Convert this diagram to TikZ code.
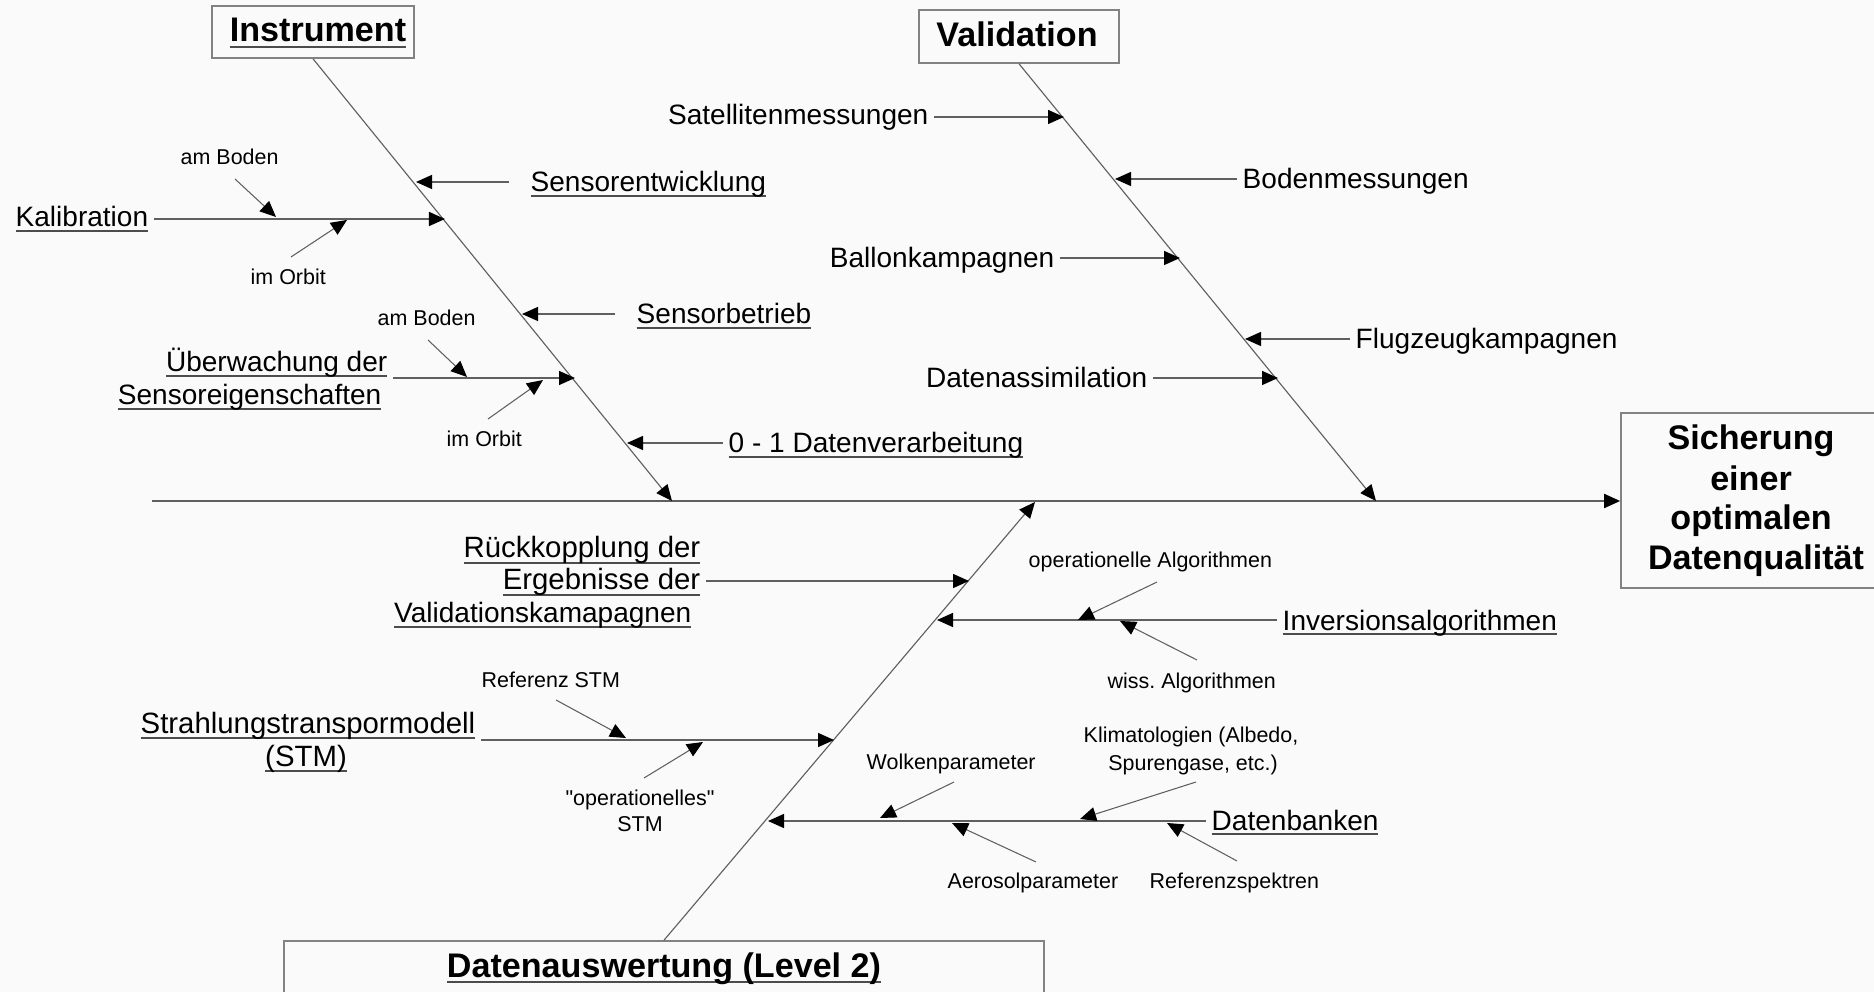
\documentclass[tikz,border=0pt]{standalone}
\usepackage{fontspec}
\setmainfont{Liberation Sans}[Ligatures=TeXOff]
\usetikzlibrary{arrows.meta}
\definecolor{linegray}{RGB}{95,95,95}
\definecolor{boxgray}{RGB}{130,130,130}
\definecolor{bgc}{RGB}{250,250,250}
\newsavebox\ulbox
\newcommand\ulx[1]{\sbox\ulbox{#1}\rlap{\color{black!70}\rule[-0.19em]{\wd\ulbox}{0.07em}}\usebox\ulbox}
\frenchspacing
\begin{document}
\begin{tikzpicture}[x=0.01cm,y=-0.01cm,
  big/.style={font=\fontsize{9.7pt}{11.4pt}\selectfont\bfseries, inner xsep=0.05cm, inner ysep=0.02cm},
  mid/.style={font=\fontsize{7.97pt}{9.6pt}\selectfont, inner xsep=0.05cm, inner ysep=0.02cm},
  midw/.style={font=\fontsize{8.35pt}{9.6pt}\selectfont, inner xsep=0.05cm, inner ysep=0.02cm},
  small/.style={font=\fontsize{6.1pt}{7.6pt}\selectfont, inner xsep=0.05cm, inner ysep=0.02cm},
  box/.style={draw=boxgray, line width=0.45pt, inner sep=0pt},
  arr/.style={draw=linegray, line width=0.4pt, -{Triangle[length=0.16cm,width=0.14cm,color=black]}},
  spinearr/.style={arr, line width=0.32pt},
  twig/.style={arr, line width=0.3pt},
]
\fill[bgc] (0,0) rectangle (1874,992);
\useasboundingbox (0,0) rectangle (1874,992);
\clip (0,0) rectangle (1874,992);

% ---------- boxes ----------
\node[box, minimum width=2.02cm, minimum height=0.52cm] (ibox) at (313,32) {};
\node[box, minimum width=2.00cm, minimum height=0.53cm] (vbox) at (1019,36.5) {};
\node[box, minimum width=2.69cm, minimum height=1.75cm] (sbox) at (1755.5,500.5) {};
\node[box, minimum width=7.60cm, minimum height=0.99cm] (dbox) at (664,990.5) {};

% ---------- headings ----------
\node[big, anchor=base] (itxt) at (318,42) {\ulx{Instrument}};
\node[big, anchor=base] (vtxt) at (1017,47) {Validation};
\node[big, anchor=base] (dtxt) at (664,977) {\ulx{Datenauswertung (Level 2)}};
\node[big, anchor=base] (s1) at (1751,450) {Sicherung};
\node[big, anchor=base] (s2) at (1751,491) {einer};
\node[big, anchor=base] (s3) at (1751,530) {optimalen};
\node[big, anchor=base] (s4) at (1756,570) {Datenqualität};

% ---------- spine tips ----------
\coordinate (mS) at (152,501);
\coordinate (iTip) at (672,501);
\coordinate (vTip) at (1376,501);
\coordinate (dTip) at (1035,502);

% main spine and bones
\draw[arr, line width=0.55pt] (mS) -- (sbox.west |- mS);
\draw[spinearr] (ibox.south) -- (iTip);
\draw[spinearr] (vbox.south) -- (vTip);
\draw[spinearr] (dbox.north) -- (dTip);

% ---------- Instrument branch ----------
\node[mid, anchor=base west] (kal) at (10,227) {\ulx{Kalibration}};
\node[mid, anchor=base west] (sensEnt) at (525,192) {\ulx{Sensorentwicklung}};
\node[mid, anchor=base west] (sensBet) at (631,324) {\ulx{Sensorbetrieb}};
\node[mid, anchor=base east] (ueb1) at (393,372) {\ulx{Überwachung der}};
\node[mid, anchor=base east] (ueb2) at (387,405) {\ulx{Sensoreigenschaften}};
\node[mid, anchor=base west] (dv) at (723,453) {\ulx{0 - 1 Datenverarbeitung}};
\node[small, anchor=base west] (amB1) at (175,165) {am Boden};
\node[small, anchor=base west] (imO1) at (245,285) {im Orbit};
\node[small, anchor=base west] (amB2) at (372,326) {am Boden};
\node[small, anchor=base west] (imO2) at (441,447) {im Orbit};

\coordinate (seTip) at (416,182);
\coordinate (seS) at (509,182);
\coordinate (kTip) at (445,219);
\coordinate (sbTip) at (522,314);
\coordinate (sbS) at (615,314);
\coordinate (ueTip) at (575,378);
\coordinate (dvTip) at (627,443);
\coordinate (a1S) at (235,179);
\coordinate (a1T) at (276,217);
\coordinate (o1S) at (291,257);
\coordinate (o1T) at (347,220);
\coordinate (a2S) at (428,340);
\coordinate (a2T) at (467,377);
\coordinate (o2S) at (488,419);
\coordinate (o2T) at (543,380);

\draw[arr] (seS) -- (seTip);
\draw[arr] (kal.east |- kTip) -- (kTip);
\draw[arr] (sbS) -- (sbTip);
\draw[arr] (ueb1.east |- ueTip) -- (ueTip);
\draw[arr] (dv.west |- dvTip) -- (dvTip);
\draw[twig] (a1S) -- (a1T);
\draw[twig] (o1S) -- (o1T);
\draw[twig] (a2S) -- (a2T);
\draw[twig] (o2S) -- (o2T);

% ---------- Validation branch ----------
\node[mid, anchor=base east] (sat) at (934,125) {Satellitenmessungen};
\node[mid, anchor=base west] (bod) at (1237,189) {Bodenmessungen};
\node[mid, anchor=base east] (bal) at (1060,268) {Ballonkampagnen};
\node[mid, anchor=base west] (flug) at (1350,349) {Flugzeugkampagnen};
\node[mid, anchor=base east] (dass) at (1153,388) {Datenassimilation};

\coordinate (satTip) at (1064,117);
\coordinate (bodTip) at (1115,179);
\coordinate (balTip) at (1180,258);
\coordinate (flugTip) at (1245,339);
\coordinate (dassTip) at (1278,378);

\draw[arr] (sat.east |- satTip) -- (satTip);
\draw[arr] (bod.west |- bodTip) -- (bodTip);
\draw[arr] (bal.east |- balTip) -- (balTip);
\draw[arr] (flug.west |- flugTip) -- (flugTip);
\draw[arr] (dass.east |- dassTip) -- (dassTip);

% ---------- Datenauswertung branch ----------
\node[midw, anchor=base east] (rk1) at (706,558) {\ulx{Rückkopplung der}};
\node[midw, anchor=base east] (rk2) at (706,590) {\ulx{Ergebnisse der}};
\node[mid, anchor=base east] (rk3) at (697,623) {\ulx{Validationskamapagnen}};
\node[mid, anchor=base west] (inv) at (1277,630) {\ulx{Inversionsalgorithmen}};
\node[midw, anchor=base] (strahl) at (308,733) {\ulx{Strahlungstranspormodell}};
\node[midw, anchor=base] (stm) at (306,766) {\ulx{(STM)}};
\node[mid, anchor=base west] (datb) at (1206,830) {\ulx{Datenbanken}};

\node[small, anchor=base west] (opAlg) at (1023,568) {operationelle Algorithmen};
\node[small, anchor=base west] (wiss) at (1102,689) {wiss. Algorithmen};
\node[small, anchor=base west] (refSTM) at (476,687) {Referenz STM};
\node[small, anchor=base] (opSTM1) at (640,805) {"operationelles"};
\node[small, anchor=base] (opSTM2) at (640,831) {STM};
\node[small, anchor=base west] (wolk) at (861,769) {Wolkenparameter};
\node[small, anchor=base] (klim1) at (1191,742) {Klimatologien (Albedo,};
\node[small, anchor=base] (klim2) at (1193,770) {Spurengase, etc.)};
\node[small, anchor=base west] (aero) at (942,888) {Aerosolparameter};
\node[small, anchor=base west] (refsp) at (1144,888) {Referenzspektren};

\coordinate (rkTip) at (969,581);
\coordinate (invTip) at (937,620);
\coordinate (stTip) at (834,740);
\coordinate (dbTip) at (768,821);
\coordinate (opAS) at (1157,582);
\coordinate (opAT) at (1078,620);
\coordinate (wiS) at (1197,660);
\coordinate (wiT) at (1120,621);
\coordinate (rsS) at (556,700);
\coordinate (rsT) at (626,738);
\coordinate (osS) at (644,778);
\coordinate (osT) at (703,742);
\coordinate (woS) at (954,782);
\coordinate (woT) at (880,818);
\coordinate (klS) at (1196,782);
\coordinate (klT) at (1080,819);
\coordinate (aeS) at (1036,862);
\coordinate (aeT) at (952,823);
\coordinate (rpS) at (1237,861);
\coordinate (rpT) at (1167,823);

\draw[arr] (rk2.east |- rkTip) -- (rkTip);
\draw[arr] (inv.west |- invTip) -- (invTip);
\draw[arr] (strahl.east |- stTip) -- (stTip);
\draw[arr] (datb.west |- dbTip) -- (dbTip);
\draw[twig] (opAS) -- (opAT);
\draw[twig] (wiS) -- (wiT);
\draw[twig] (rsS) -- (rsT);
\draw[twig] (osS) -- (osT);
\draw[twig] (woS) -- (woT);
\draw[twig] (klS) -- (klT);
\draw[twig] (aeS) -- (aeT);
\draw[twig] (rpS) -- (rpT);
\end{tikzpicture}
\end{document}
